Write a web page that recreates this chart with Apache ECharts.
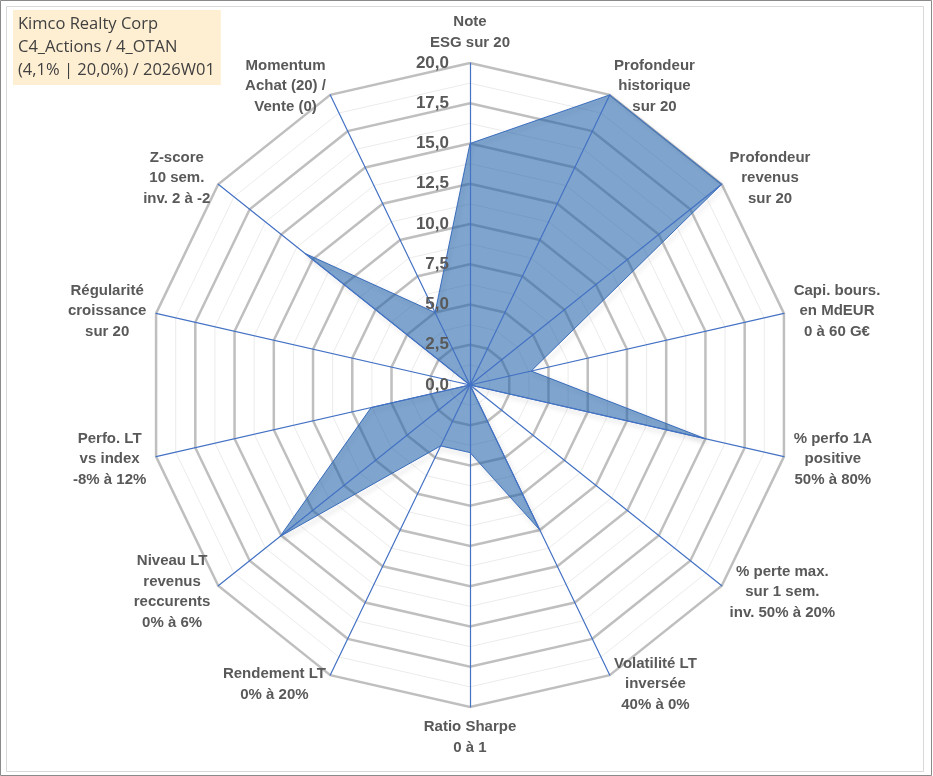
<!DOCTYPE html>
<html>
<head>
<meta charset="utf-8">
<script src="https://cdn.jsdelivr.net/npm/echarts@6/dist/echarts.min.js"></script>
<style>
  html, body { margin: 0; padding: 0; background: #fff; }
  #chart { width: 933px; height: 776px; }
</style>
</head>
<body>
<div id="chart"></div>
<script>
// critères, dans l'ordre des aiguilles d'une montre depuis le haut
var criteres = [
	'Note\nESG sur 20',
	'Profondeur\nhistorique\nsur 20',
	'Profondeur\nrevenus\nsur 20',
	'Capi. bours.\nen MdEUR\n0 à 60 G€',
	'% perfo 1A\npositive\n50% à 80%',
	'% perte max.\nsur 1 sem.\ninv. 50% à 20%',
	'Volatilité LT\ninversée\n40% à 0%',
	'Ratio Sharpe\n0 à 1',
	'Rendement LT\n0% à 20%',
	'Niveau LT\nrevenus\nreccurents\n0% à 6%',
	'Perfo. LT\nvs index\n-8% à 12%',
	'Régularité\ncroissance\nsur 20',
	'Z-score\n10 sem.\ninv. 2 à -2',
	'Momentum\nAchat (20) /\nVente (0)'
];
var notes = [15, 20, 20, 3.9, 15, 0, 10, 4.2, 4.2, 15.1, 6.3, 0, 13.1, 5];

var noteMin = 0;
var noteMax = 20;
var pasMajeur = 2.5;

var titre = ['Kimco Realty Corp', 'C4_Actions / 4_OTAN', '(4,1% | 20,0%) / 2026W01'];

// echarts tourne dans le sens inverse : on garde le premier et on inverse le reste
function sensEcharts(arr) {
	return [arr[0]].concat(arr.slice(1).reverse());
}

var police = '"Liberation Sans", Arial, sans-serif';
var centre = [470, 385];
var rayon = 322;
var nbPas = (noteMax - noteMin) / pasMajeur;

function indicateurs(avecLabel) {
	return sensEcharts(criteres).map(function (nom, i) {
		var ind = { name: nom, min: noteMin, max: noteMax };
		if (avecLabel && i === 0) {
			ind.axisLabel = { show: true };
		}
		return ind;
	});
}

var myChart = echarts.init(document.getElementById('chart'));
var option = {
	animation: false,
	title: {
		text: titre.join('\n'),
		left: 13,
		top: 10,
		padding: [3, 6, 3, 5],
		backgroundColor: '#ffefd2',
		textStyle: {
			fontFamily: '"Open Sans", sans-serif',
			fontSize: 16.5,
			fontWeight: 'normal',
			color: '#404040',
			lineHeight: 23
		}
	},
	graphic: [
		{ type: 'rect', shape: { x: 0.5, y: 0.5, width: 931, height: 775 }, style: { fill: 'none', stroke: '#8a8a8a', lineWidth: 1 }, silent: true },
		{ type: 'rect', shape: { x: 6.5, y: 6.5, width: 917, height: 765 }, style: { fill: 'none', stroke: '#d9d9d9', lineWidth: 1 }, silent: true }
	],
	radar: [
		{
			// grille fine
			z: 0,
			center: centre,
			radius: rayon,
			shape: 'polygon',
			splitNumber: nbPas * 2,
			indicator: indicateurs(false),
			axisName: { show: false },
			axisLine: { show: false },
			axisTick: { show: false },
			axisLabel: { show: false },
			splitArea: { show: false },
			splitLine: { lineStyle: { color: '#ebebeb', width: 1 } }
		},
		{
			// grille principale
			z: 1,
			center: centre,
			radius: rayon,
			shape: 'polygon',
			splitNumber: nbPas,
			indicator: indicateurs(false),
			axisName: { show: false },
			axisLine: { show: false },
			axisTick: { show: false },
			axisLabel: { show: false },
			splitArea: { show: false },
			splitLine: { lineStyle: { color: '#bfbfbf', width: 2.5 } }
		},
		{
			// axes bleus et libellés au-dessus de la surface
			z: 3,
			center: centre,
			radius: rayon,
			shape: 'polygon',
			splitNumber: nbPas,
			indicator: indicateurs(true),
			axisNameGap: 10,
			axisName: {
				show: true,
				formatter: function (nom) {
					return nom.split('\n').map(function (l) { return '{c|' + l + '}'; }).join('\n');
				},
				rich: {
					c: {
						align: 'center',
						fontFamily: police,
						fontSize: 15,
						fontWeight: 'bold',
						color: '#595959',
						lineHeight: 20.5
					}
				}
			},
			axisLine: { show: true, lineStyle: { color: '#4472c4', width: 1.2 } },
			axisTick: { show: false },
			axisLabel: {
				show: false,
				margin: 21,
				fontFamily: police,
				fontSize: 17,
				fontWeight: 'bold',
				color: '#595959',
				formatter: function (v) { return v.toFixed(1).replace('.', ','); }
			},
			splitArea: { show: false },
			splitLine: { show: false }
		}
	],
	series: [{
		type: 'radar',
		radarIndex: 1,
		z: 2,
		symbol: 'none',
		lineStyle: {
			color: '#4472c4',
			width: 1,
			shadowColor: 'rgba(0,0,0,0.3)',
			shadowBlur: 5,
			shadowOffsetX: 2,
			shadowOffsetY: 3
		},
		areaStyle: {
			color: 'rgb(34,98,168)',
			opacity: 0.58
		},
		data: [{ value: sensEcharts(notes), name: 'Kimco Realty Corp' }]
	}]
};
option && myChart.setOption(option);
</script>
</body>
</html>
